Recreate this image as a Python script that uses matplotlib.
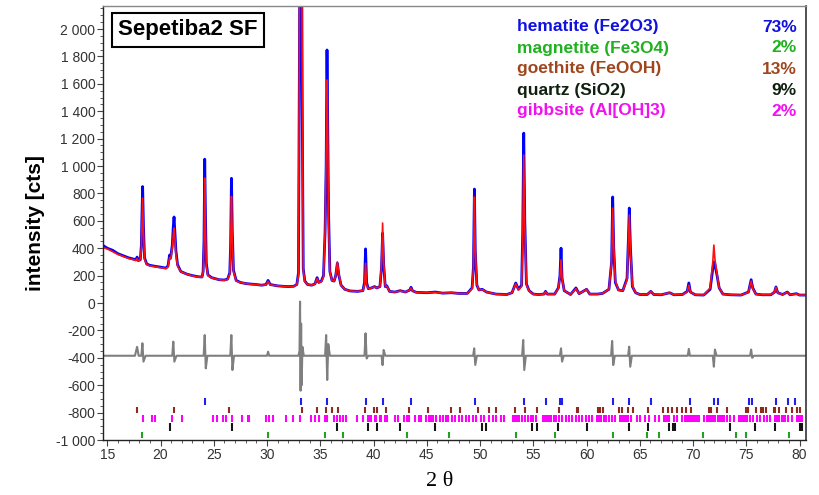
import matplotlib
matplotlib.use("Agg")
import matplotlib.pyplot as plt
from matplotlib.ticker import MultipleLocator, FuncFormatter

plt.rcParams['font.family'] = ['Liberation Sans', 'DejaVu Sans']

# ---------------- data ----------------
two_theta = [14.6, 15.0, 15.5, 16.0, 16.5, 17.0, 17.5, 17.7, 17.8, 17.9, 18.1, 18.2, 18.25, 18.32, 18.4, 18.5,
             18.7, 19.0, 19.5, 20.0, 20.5, 20.7, 20.85, 20.95, 21.1, 21.2, 21.27, 21.35, 21.45, 21.6, 21.9,
             22.5, 23.0, 23.5, 23.9, 24.0, 24.08, 24.15, 24.22, 24.3, 24.45, 24.8, 25.5, 26.0, 26.3, 26.5,
             26.58, 26.66, 26.74, 26.85, 27.1, 27.5, 28.0, 28.5, 29.0, 29.5, 29.9, 30.1, 30.3, 31.0, 31.5,
             32.0, 32.5, 32.8, 32.95, 33.05, 33.1, 33.17, 33.25, 33.3, 33.4, 33.55, 33.8, 34.2, 34.5, 34.7,
             34.85, 35.1, 35.3, 35.45, 35.55, 35.63, 35.7, 35.78, 35.9, 36.1, 36.3, 36.45, 36.6, 36.75, 36.95,
             37.3, 37.8, 38.5, 39.0, 39.15, 39.25, 39.35, 39.5, 39.8, 40.1, 40.3, 40.6, 40.75, 40.85, 40.95,
             41.1, 41.25, 41.5, 42.0, 42.5, 43.0, 43.4, 43.52, 43.65, 44.0, 45.0, 45.8, 46.5, 47.3, 48.0,
             48.8, 49.25, 49.38, 49.47, 49.55, 49.7, 49.9, 50.2, 50.6, 51.5, 52.5, 53.0, 53.35, 53.6, 53.9,
             54.0, 54.1, 54.2, 54.35, 54.6, 55.0, 55.5, 56.0, 56.15, 56.3, 57.0, 57.35, 57.5, 57.6, 57.7,
             57.9, 58.5, 59.0, 59.3, 60.0, 60.3, 61.0, 61.5, 62.1, 62.35, 62.45, 62.55, 62.7, 63.0, 63.4,
             63.8, 63.93, 64.01, 64.12, 64.3, 64.6, 65.0, 65.7, 66.03, 66.3, 67.0, 67.8, 68.2, 69.0, 69.45,
             69.6, 69.75, 70.2, 71.0, 71.6, 71.85, 71.95, 72.05, 72.25, 72.45, 72.8, 73.5, 74.5, 75.2, 75.45,
             75.6, 75.9, 76.5, 77.3, 77.65, 77.78, 77.95, 78.4, 78.85, 79.1, 79.7, 80.0, 80.6]

i_obs = [420, 400, 385, 360, 345, 330, 320, 315, 335, 310, 315, 420, 620, 850, 560, 330,
         285, 275, 268, 262, 255, 270, 350, 330, 420, 560, 628, 520, 380, 280, 230,
         210, 200, 192, 190, 230, 450, 1050, 640, 290, 205, 185, 170, 168, 175, 220,
         420, 910, 520, 240, 165, 150, 142, 138, 135, 130, 135, 165, 135, 125, 122,
         120, 122, 135, 220, 2000, 2800, 3000, 2600, 1500, 250, 160, 135, 130, 140, 185,
         150, 160, 200, 520, 1000, 1847, 1300, 650, 230, 165, 160, 200, 290, 200, 130,
         100, 88, 85, 90, 150, 395, 150, 105, 110, 120, 110, 120, 260, 510, 280,
         120, 125, 85, 80, 90, 80, 95, 115, 90, 78, 75, 80, 72, 75, 70,
         70, 110, 265, 832, 380, 130, 95, 100, 80, 65, 62, 75, 146, 100, 130,
         500, 1240, 600, 140, 90, 65, 62, 65, 85, 65, 65, 110, 200, 400, 180,
         90, 62, 110, 68, 100, 65, 65, 70, 100, 300, 774, 400, 150, 95, 90,
         180, 474, 693, 400, 120, 75, 62, 62, 85, 62, 60, 75, 60, 62, 85,
         146, 80, 60, 58, 100, 250, 300, 280, 200, 110, 65, 60, 58, 80, 170,
         110, 65, 60, 60, 80, 117, 75, 62, 80, 60, 68, 58, 58]

i_calc = [405, 395, 375, 355, 340, 325, 315, 310, 325, 308, 315, 400, 560, 766, 520, 320,
          280, 272, 265, 258, 252, 262, 330, 320, 400, 500, 547, 470, 350, 270, 228,
          210, 198, 190, 188, 225, 420, 912, 560, 270, 200, 183, 170, 166, 172, 210,
          400, 778, 470, 230, 160, 150, 142, 137, 134, 130, 132, 158, 133, 125, 122,
          120, 122, 133, 200, 2300, 3000, 3300, 2800, 1800, 240, 155, 135, 130, 138, 178,
          150, 155, 190, 520, 1100, 1628, 1250, 600, 230, 165, 160, 200, 300, 210, 130,
          100, 88, 85, 90, 130, 290, 135, 105, 110, 118, 110, 120, 280, 584, 300,
          125, 122, 85, 80, 88, 80, 95, 110, 90, 78, 75, 78, 72, 75, 70,
          70, 105, 260, 774, 400, 135, 95, 98, 80, 65, 62, 75, 140, 95, 120,
          450, 1080, 560, 135, 88, 65, 62, 65, 82, 65, 65, 105, 190, 314, 180,
          90, 62, 105, 68, 100, 65, 65, 70, 100, 300, 693, 420, 160, 95, 90,
          170, 450, 642, 380, 125, 75, 62, 62, 85, 62, 60, 75, 60, 62, 80,
          130, 80, 60, 58, 110, 300, 423, 320, 210, 110, 65, 60, 58, 78, 160,
          105, 65, 60, 60, 80, 115, 75, 62, 78, 60, 66, 58, 58]

diff_theta = [14.6, 17.6, 17.8, 17.95, 18.2, 18.3, 18.4, 18.6, 21.1, 21.2, 21.3, 21.5, 24.05, 24.15,
              24.25, 24.4, 26.55, 26.65, 26.75, 26.9, 30.0, 30.1, 30.2, 32.95, 33.05, 33.1, 33.15, 33.2,
              33.25, 33.32, 33.45, 35.45, 35.55, 35.65, 35.75, 35.9, 39.15, 39.25, 39.35, 39.5, 40.75,
              40.85, 40.95, 41.1, 49.35, 49.45, 49.55, 49.7, 53.95, 54.05, 54.15, 54.3, 57.5, 57.6, 57.7,
              57.85, 62.3, 62.4, 62.5, 62.65, 63.9, 64.0, 64.1, 64.25, 69.5, 69.6, 69.7, 71.85, 71.95, 72.05,
              72.2, 75.35, 75.45, 75.55, 75.7, 80.6]
i_diff = [-385, -385, -320, -385, -385, -294, -428, -385, -385, -282, -428, -385, -385, -234,
          -477, -385, -385, -234, -489, -385, -385, -355, -385, -385, -350, 10, -640, -150,
          -600, -320, -385, -385, -234, -562, -300, -385, -385, -221, -405, -385, -385,
          -453, -343, -385, -385, -331, -452, -385, -385, -270, -489, -385, -385, -331, -428,
          -385, -385, -277, -453, -385, -385, -319, -465, -385, -385, -335, -385, -385, -465, -340,
          -385, -385, -340, -400, -385, -385]

hematite = [24.15, 33.17, 35.63, 39.3, 40.87, 43.55, 49.5, 54.1, 56.2, 57.55, 57.65, 62.45, 64.0,
            66.05, 69.7, 72.0, 72.3, 75.25, 75.5, 77.8, 78.9, 79.6]
goethite = [17.8, 21.3, 26.4, 33.3, 34.7, 35.5, 36.1, 36.7, 39.2, 40.0, 40.3, 41.2, 43.3, 45.1, 47.3,
            48.1, 49.8, 50.8, 51.5, 53.3, 54.2, 55.35, 57.4, 59.1, 59.2, 61.1, 61.3, 61.5, 63.0, 63.3,
            63.9, 64.35, 65.75, 67.15, 67.6, 68.0, 68.5, 69.0, 69.3, 69.8, 71.5, 71.7, 72.2, 73.2, 75.0,
            75.2, 75.95, 76.4, 76.6, 76.8, 77.55, 77.65, 78.1, 78.7, 79.3, 79.8, 80.0]
gibbsite = [18.31, 19.18, 19.49, 21.12, 21.99, 24.96, 25.33, 25.89, 26.11, 26.74, 27.61, 28.17, 28.33,
            29.89, 30.2, 30.57, 31.76, 32.45, 33.07, 34.1, 34.48, 34.88, 35.41, 35.63, 36.25, 36.57,
            36.88, 37.13, 37.44, 38.44, 39.0, 39.47, 39.63, 39.78, 40.09, 40.25, 40.56, 40.72, 41.09,
            41.25, 41.97, 42.28, 42.9, 43.15, 43.37, 43.93, 44.24, 44.46, 44.93, 45.24, 45.4, 45.62,
            45.87, 46.24, 46.49, 46.8, 46.96, 47.37, 47.68, 48.05, 48.3, 48.68, 48.99, 49.3, 49.6,
            50.08, 50.39, 50.86, 51.17, 51.49, 51.95, 52.27, 53.05, 53.15, 53.25, 53.35, 53.45, 53.55,
            53.65, 53.92, 54.23, 54.54, 54.76, 55.01, 55.23, 55.9, 56.1, 56.3, 56.5, 56.7, 56.9, 57.1,
            57.42, 57.73, 58.04, 58.35, 58.66, 58.98, 59.29, 59.6, 59.91, 60.22, 60.54, 61.0, 61.2,
            61.4, 61.6, 61.8, 62.1, 62.4, 62.7, 63.1, 63.3, 63.5, 63.7, 63.9, 64.13, 64.75, 65.06,
            65.53, 65.84, 66.47, 66.78, 67.3, 67.45, 67.6, 67.75, 68.18, 68.5, 69.0, 69.2, 69.4, 69.6,
            69.8, 70.0, 70.2, 70.4, 70.6, 70.99, 71.3, 71.5, 71.7, 71.9, 72.1, 72.3, 72.5, 72.7, 72.9,
            73.18, 73.49, 73.8, 74.3, 74.5, 74.7, 74.9, 75.05, 75.36, 75.67, 75.99, 76.3, 76.61, 76.92,
            77.24, 77.7, 77.9, 78.1, 78.3, 78.5, 78.65, 78.95, 79.26, 79.75, 79.9, 80.05, 80.2]
quartz = [20.9, 26.7, 36.6, 39.5, 40.3, 42.5, 45.8, 50.2, 50.6, 54.9, 55.3, 57.3, 60.0, 64.0, 65.8,
          67.7, 68.1, 68.3, 73.5, 75.8, 77.7, 80.0, 80.2]
magnetite = [18.3, 30.1, 35.4, 37.1, 43.1, 47.1, 53.4, 57.0, 62.5, 65.7, 66.8, 70.9, 74.0, 75.0, 79.0]

phase_names = ["hematite (Fe2O3)", "magnetite (Fe3O4)", "goethite (FeOOH)", "quartz (SiO2)", "gibbsite (Al[OH]3)"]
phase_pct = ["73%", "2%", "13%", "9%", "2%"]
phase_colors = ["#1010e0", "#20b020", "#a0461e", "#102010", "#f010f0"]

# ---------------- figure ----------------
W, H = 819, 495
fig = plt.figure(figsize=(W / 100, H / 100), dpi=100)
ax = fig.add_axes([103 / W, 1 - 440 / H, (806 - 103) / W, (440 - 6) / H])

ax.plot(two_theta, i_obs, color="#0000ff", lw=2.0)
ax.plot(two_theta, i_calc, color="#ff1010", lw=1.2)
ax.plot(diff_theta, i_diff, color="#7f7f7f", lw=1.5)

rows = [(hematite, -745, -693, "#2020e8"),
        (goethite, -803, -759, "#8e2a1e"),
        (gibbsite, -869, -818, "#ff00ff"),
        (quartz, -934, -876, "#151515"),
        (magnetite, -985, -942, "#22a022")]
for pos, y0, y1, c in rows:
    ax.vlines(pos, y0, y1, color=c, lw=1.5)

ax.set_xlim(14.6, 80.6)
ax.set_ylim(-1000, 2168)

ax.xaxis.set_major_locator(MultipleLocator(5))
ax.xaxis.set_minor_locator(MultipleLocator(1))
ax.yaxis.set_major_locator(MultipleLocator(200))
ax.yaxis.set_minor_locator(MultipleLocator(50))


def fmt(v, _):
    s = f"{abs(int(round(v))):,}".replace(",", " ")
    return ("-" if v < 0 else "") + s


ax.yaxis.set_major_formatter(FuncFormatter(fmt))
ax.tick_params(which="major", direction="out", length=4, width=0.8, color="#444444",
               labelsize=10, labelcolor="#333333", pad=1.5)
ax.tick_params(which="minor", direction="out", length=2, width=0.6, color="#444444")

for s in ["left", "bottom"]:
    ax.spines[s].set_color("#222222")
    ax.spines[s].set_linewidth(1.0)
ax.spines["right"].set_color("#333333")
ax.spines["right"].set_linewidth(1.2)
ax.spines["top"].set_color("#888888")
ax.spines["top"].set_linewidth(1.0)

ax.set_ylabel("intensity [cts]", fontsize=15, fontweight="bold", labelpad=8)
fig.text(440 / W, 1 - 481 / H, "2 θ", fontsize=16, family=["Liberation Serif", "DejaVu Serif"],
         ha="center", va="center")

fig.text(188 / W, 1 - 30 / H, "Sepetiba2 SF", fontsize=16, fontweight="bold", ha="center", va="center",
         bbox=dict(boxstyle="square,pad=0.28", fc="white", ec="black", lw=1.5))

for k, (name, pct, c) in enumerate(zip(phase_names, phase_pct, phase_colors)):
    y = 1 - (27 + 21 * k) / H
    fig.text(517 / W, y, name, color=c, fontsize=12.5, fontweight="bold", ha="left", va="center")
    fig.text(797 / W, y, pct, color=c, fontsize=12.5, fontweight="bold", ha="right", va="center")

fig.savefig("out.png", dpi=100)
